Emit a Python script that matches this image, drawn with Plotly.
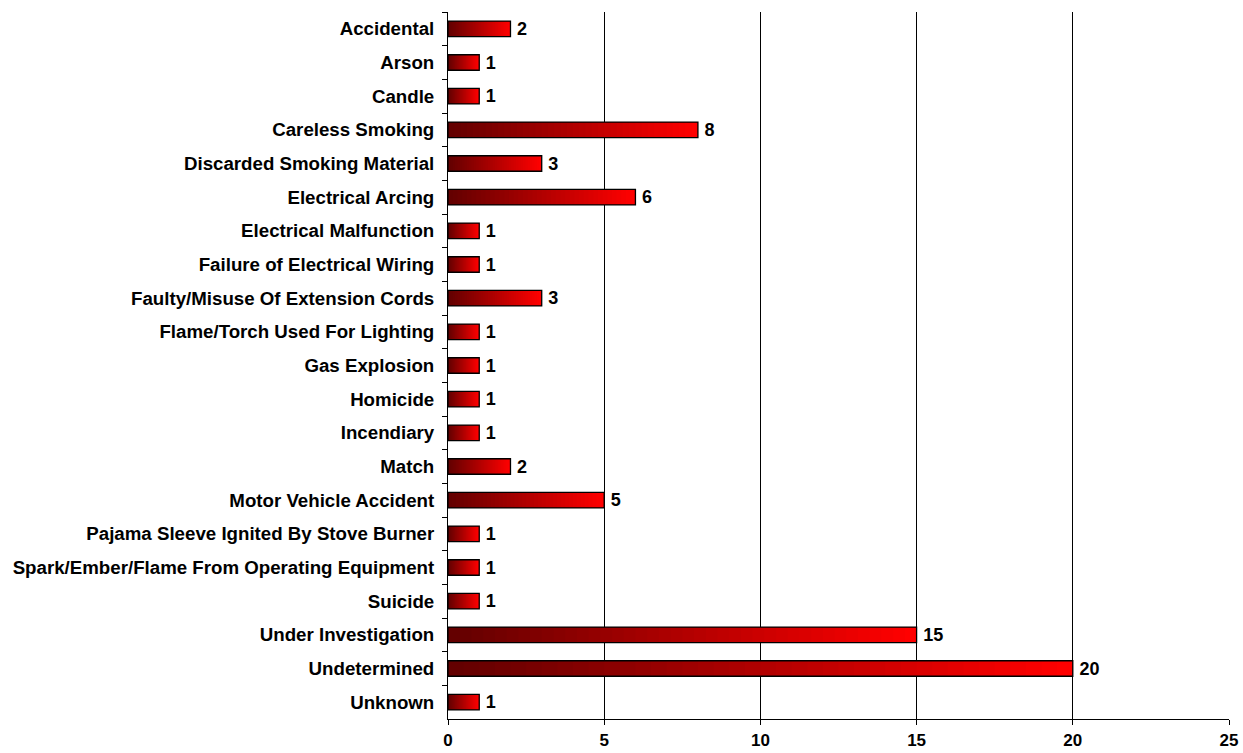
import plotly.graph_objects as go

causes = ["Accidental", "Arson", "Candle", "Careless Smoking", "Discarded Smoking Material",
          "Electrical Arcing", "Electrical Malfunction", "Failure of Electrical Wiring",
          "Faulty/Misuse Of Extension Cords", "Flame/Torch Used For Lighting", "Gas Explosion",
          "Homicide", "Incendiary", "Match", "Motor Vehicle Accident",
          "Pajama Sleeve Ignited By Stove Burner", "Spark/Ember/Flame From Operating Equipment",
          "Suicide", "Under Investigation", "Undetermined", "Unknown"]
counts = [2, 1, 1, 8, 3, 6, 1, 1, 3, 1, 1, 1, 1, 2, 5, 1, 1, 1, 15, 20, 1]

FONT = "Arial, Liberation Sans"

fig = go.Figure()

# fake a left-to-right gradient by overlaying shorter and darker bars
steps = 40
dark = (100, 0, 0)
bright = (255, 0, 0)
for k in range(steps):
    frac = (steps - k) / steps
    t = (steps - 1 - k) / (steps - 1)
    col = tuple(int(dark[i] + (bright[i] - dark[i]) * t) for i in range(3))
    fig.add_trace(go.Bar(
        y=causes, x=[c * frac for c in counts], orientation="h",
        marker=dict(color="rgb(%d,%d,%d)" % col, line=dict(width=0)),
        width=0.46, hoverinfo="skip", showlegend=False,
    ))

# outline + value labels
fig.add_trace(go.Bar(
    y=causes, x=counts, orientation="h", width=0.46,
    marker=dict(color="rgba(0,0,0,0)", line=dict(color="black", width=1.3)),
    text=counts, textposition="outside", cliponaxis=False, constraintext="none",
    textfont=dict(family=FONT, size=18, color="black"),
    texttemplate="\u2009<b>%{text}</b>", showlegend=False,
))

fig.update_layout(
    barmode="overlay",
    width=1243, height=753,
    margin=dict(l=448, r=14, t=12, b=34, autoexpand=False),
    plot_bgcolor="white", paper_bgcolor="white",
    font=dict(family=FONT, size=18, color="black"),
)
fig.update_xaxes(
    range=[0, 25], dtick=5, showgrid=True, gridcolor="black", gridwidth=1,
    showline=True, linecolor="black", linewidth=1, zeroline=False,
    ticks="outside", ticklen=5, tickcolor="black", automargin=False,
    tickfont=dict(size=17, family=FONT),
    tickprefix="<b>", ticksuffix="</b>", ticklabelstandoff=1,
)
fig.update_yaxes(
    categoryorder="array", categoryarray=causes, autorange="reversed",
    showline=True, linecolor="black", linewidth=1, showgrid=False,
    ticks="outside", ticklen=5, tickcolor="black", tickson="boundaries",
    automargin=False, tickfont=dict(size=18.7, family=FONT),
    tickprefix="<b>", ticksuffix="</b>", ticklabelstandoff=9,
)

fig.write_html("out.html", config={"displayModeBar": False},
               post_script="document.body.style.margin='0';")
